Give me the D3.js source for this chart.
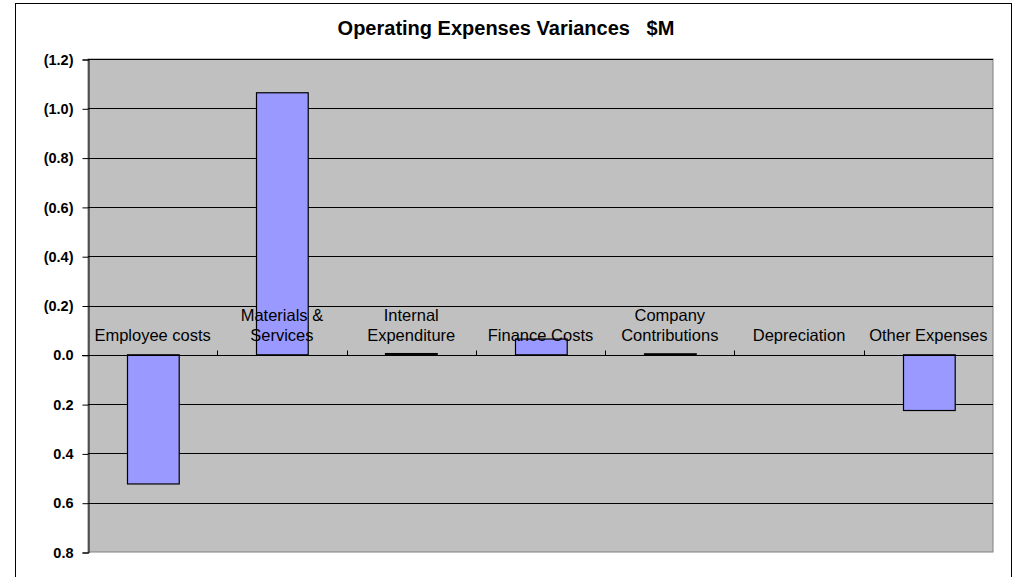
<!DOCTYPE html>
<html lang="en">
<head>
  <meta charset="UTF-8">
  <title>Operating Expenses Variances</title>
  <script src="https://d3js.org/d3.v7.min.js"></script>
  <style>
    body { margin: 0; background: #fff; }
    svg { display: block; font-family: Arial, "Liberation Sans", sans-serif; }
  </style>
</head>
<body>
<div class="main"></div>
<script>
  let width = 1018;
  let height = 577;

  // data
  let categories = [["Employee costs"], ["Materials &", "Services"], ["Internal", "Expenditure"],
    ["Finance Costs"], ["Company", "Contributions"], ["Depreciation"], ["Other Expenses"]];
  let values = [0.524, -1.063, -0.005, -0.064, -0.004, 0, 0.226];
  let yTicks = [-1.2, -1.0, -0.8, -0.6, -0.4, -0.2, 0, 0.2, 0.4, 0.6, 0.8];

  let plot = { left: 88, right: 993, top: 59, bottom: 552 };

  let svg = d3.select(".main")
          .append("svg")
          .attr("width", width)
          .attr("height", height);

  // outer chart border
  svg.append("rect")
          .attr("x", 15.5).attr("y", 3.5)
          .attr("width", 996).attr("height", 600)
          .attr("fill", "#fff").attr("stroke", "#000");

  svg.append("text")
          .attr("x", 506).attr("y", 35)
          .attr("text-anchor", "middle")
          .style("font-size", "20px").style("font-weight", "bold")
          .style("white-space", "pre")
          .text("Operating Expenses Variances   $M");

  let x = d3.scaleBand()
          .domain(categories.map((c, i) => i))
          .range([plot.left, plot.right]);

  let y = d3.scaleLinear()
          .domain([-1.2, 0.8])
          .range([plot.top, plot.bottom]);

  // plot area
  svg.append("rect")
          .attr("x", plot.left).attr("y", plot.top)
          .attr("width", plot.right - plot.left).attr("height", plot.bottom - plot.top)
          .attr("fill", "#c0c0c0").attr("stroke", "#808080");

  // gridlines
  svg.append("g").selectAll("line")
          .data(yTicks.slice(0, -1))
          .join("line")
          .attr("x1", plot.left).attr("x2", plot.right)
          .attr("y1", d => Math.round(y(d)) + 0.5).attr("y2", d => Math.round(y(d)) + 0.5)
          .attr("stroke", "#000");

  // y axis
  let fmt = d => d < 0 ? "(" + d3.format(".1f")(-d) + ")" : d3.format(".1f")(Math.abs(d));
  let yAxis = d3.axisLeft(y)
          .tickValues(yTicks)
          .tickFormat(fmt)
          .tickSize(6)
          .tickPadding(9);
  let gy = svg.append("g")
          .attr("transform", `translate(${plot.left + 0.5},0.5)`)
          .call(yAxis);
  gy.selectAll("text").style("font-size", "14.5px").style("font-weight", "bold")
          .style("font-family", "Arial, 'Liberation Sans', sans-serif").attr("fill", "#000");
  gy.selectAll("line, path").attr("stroke", "#000");

  // bars
  let barW = x.bandwidth() / 2.5;
  svg.append("g").selectAll("rect")
          .data(values)
          .join("rect")
          .attr("x", (d, i) => Math.round(x(i) + (x.bandwidth() - barW) / 2) + 0.5)
          .attr("y", d => y(Math.min(0, d)))
          .attr("width", barW)
          .attr("height", d => Math.abs(y(d) - y(0)))
          .attr("fill", "#9999ff")
          .attr("stroke", "#000")
          .attr("stroke-width", 1.2);

  // category axis along zero line
  let zeroY = Math.round(y(0)) + 0.5;
  svg.append("line")
          .attr("x1", plot.left - 6).attr("x2", plot.right)
          .attr("y1", zeroY).attr("y2", zeroY)
          .attr("stroke", "#000");
  svg.append("g").selectAll("line")
          .data(d3.range(1, categories.length))
          .join("line")
          .attr("x1", i => Math.round(x(i)) + 0.5).attr("x2", i => Math.round(x(i)) + 0.5)
          .attr("y1", zeroY).attr("y2", zeroY - 5)
          .attr("stroke", "#000");

  let labels = svg.append("g").selectAll("text")
          .data(categories)
          .join("text")
          .attr("x", (d, i) => x(i) + x.bandwidth() / 2)
          .attr("y", d => zeroY - 14.5 - (d.length - 1) * 20)
          .attr("text-anchor", "middle")
          .style("font-size", "16.5px")
          .attr("fill", "#000");
  labels.selectAll("tspan")
          .data(d => d)
          .join("tspan")
          .attr("x", function () { return this.parentNode.getAttribute("x"); })
          .attr("dy", (d, i) => i === 0 ? 0 : 20)
          .text(d => d);
</script>
</body>
</html>
